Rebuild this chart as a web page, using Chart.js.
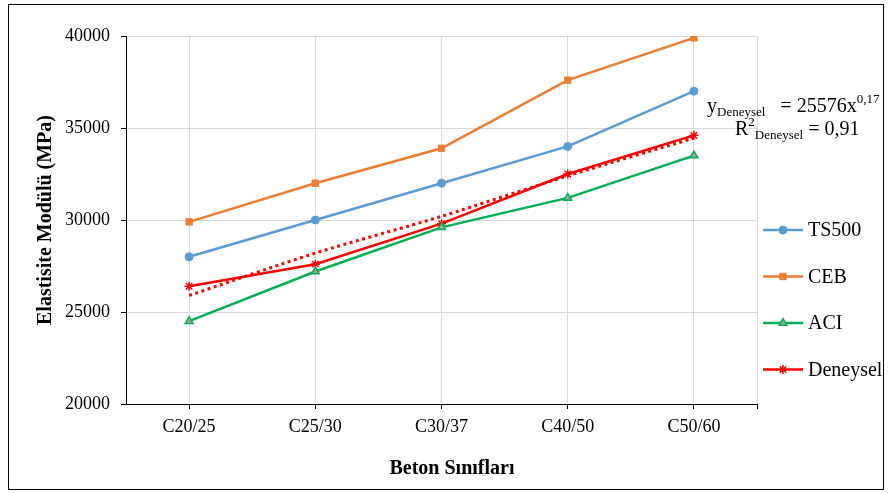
<!DOCTYPE html>
<html>
<head>
<meta charset="utf-8">
<script src="https://cdn.jsdelivr.net/npm/chart.js@4"></script>
<style>
  html, body { margin: 0; padding: 0; background: #fff; }
  #wrap { width: 890px; height: 493px; }
</style>
</head>
<body>
<div id="wrap"><canvas id="chart-line"></canvas></div>
<script>
const labels = ['C20/25', 'C25/30', 'C30/37', 'C40/50', 'C50/60'];

const ts500 = [28000, 30000, 32000, 34000, 37000];
const ceb = [29900, 32000, 33900, 37600, 39900];
const aci = [24500, 27200, 29600, 31200, 33500];
const deneysel = [26400, 27600, 29800, 32500, 34600];
// power trendline of Deneysel
const trend = [25900, 28200, 30200, 32400, 34450];

const yTicks = [20000, 25000, 30000, 35000, 40000];

const serif = "'Liberation Serif', 'Times New Roman', serif";

// legend, equation, x title, right edge and frame
const extras = {
  id: 'extras',
  afterDraw(chart) {
    const ctx = chart.ctx;
    const area = chart.chartArea;
    ctx.save();

    // right edge gridline and tick
    ctx.strokeStyle = '#D9D9D9';
    ctx.lineWidth = 1;
    ctx.beginPath();
    ctx.moveTo(area.right + 0.5, area.top);
    ctx.lineTo(area.right + 0.5, area.bottom);
    ctx.stroke();
    ctx.strokeStyle = '#000';
    ctx.beginPath();
    ctx.moveTo(area.right + 0.5, area.bottom);
    ctx.lineTo(area.right + 0.5, area.bottom + 5);
    ctx.stroke();

    // legend
    const sets = chart.data.datasets.filter(d => !d.hideLegend);
    sets.forEach((d, i) => {
      const y = 230 + i * 46.5;
      ctx.strokeStyle = d.borderColor;
      ctx.lineWidth = 2.5;
      ctx.beginPath();
      ctx.moveTo(763, y);
      ctx.lineTo(803, y);
      ctx.stroke();
      ctx.fillStyle = d.pointBackgroundColor;
      ctx.strokeStyle = d.pointBorderColor;
      ctx.lineWidth = d.pointBorderWidth || 1;
      Chart.helpers.drawPoint(ctx, {
        pointStyle: d.pointStyle,
        radius: d.pointRadius,
        borderWidth: d.pointBorderWidth || 1
      }, 783, y);
      ctx.fillStyle = '#000';
      ctx.font = '20px ' + serif;
      ctx.textBaseline = 'middle';
      ctx.textAlign = 'left';
      ctx.fillText(d.label, 808, y + 1);
    });

    // equation
    ctx.textBaseline = 'alphabetic';
    ctx.fillStyle = '#000';
    function runs(x, parts) {
      parts.forEach(p => {
        ctx.font = p[1] + 'px ' + serif;
        ctx.fillText(p[0], x, p[2]);
        x += ctx.measureText(p[0]).width;
      });
    }
    runs(707, [['y', 20, 112], ['Deneysel', 13, 116], ['   = 25576x', 20, 112], ['0,17', 13, 103]]);
    runs(735, [['R', 20, 135], ['2', 13, 126], ['Deneysel', 13, 139], [' = 0,91', 20, 135]]);

    // x axis title
    ctx.font = 'bold 20px ' + serif;
    ctx.textAlign = 'center';
    ctx.textBaseline = 'middle';
    ctx.fillText('Beton Sınıfları', 452, 469);

    // frame
    ctx.strokeStyle = '#000';
    ctx.lineWidth = 1;
    ctx.strokeRect(8.5, 4.5, 875, 485);
    ctx.restore();
  }
};

const data = {
  labels: labels,
  datasets: [
    {
      label: 'TS500',
      data: ts500,
      borderColor: '#5B9BD5',
      pointBackgroundColor: '#5B9BD5',
      pointBorderColor: '#5B9BD5',
      pointStyle: 'circle',
      pointRadius: 4
    },
    {
      label: 'CEB',
      data: ceb,
      borderColor: '#ED7D31',
      pointBackgroundColor: '#ED7D31',
      pointBorderColor: '#ED7D31',
      pointStyle: 'rect',
      pointRadius: 4.5
    },
    {
      label: 'ACI',
      data: aci,
      borderColor: '#00B050',
      pointBackgroundColor: '#A5A5A5',
      pointBorderColor: '#00B050',
      pointStyle: 'triangle',
      pointRadius: 4.5,
      pointBorderWidth: 1.5
    },
    {
      label: 'Deneysel',
      data: deneysel,
      borderColor: '#FF0000',
      pointBackgroundColor: '#FF0000',
      pointBorderColor: '#FF0000',
      pointStyle: 'star',
      pointRadius: 4.5,
      pointBorderWidth: 1.5
    },
    {
      label: 'Trend',
      data: trend,
      hideLegend: true,
      borderColor: '#FF0000',
      borderDash: [3, 3.5],
      borderWidth: 3,
      pointRadius: 0,
      tension: 0.3
    }
  ]
};

const config = {
  type: 'line',
  data: data,
  options: {
    responsive: true,
    maintainAspectRatio: false,
    animation: false,
    layout: { padding: { left: 8, right: 133, top: 36, bottom: 5 } },
    elements: {
      line: { borderWidth: 2.5 },
      point: { hoverRadius: 5 }
    },
    scales: {
      x: {
        offset: true,
        afterFit(scale) { scale.height = 84; },
        grid: { offset: false, color: '#D9D9D9', tickColor: '#000', tickLength: 5 },
        border: { color: '#000', width: 1 },
        ticks: { color: '#000', padding: 7, font: { family: serif, size: 18 } }
      },
      y: {
        min: 20000,
        max: 40000,
        afterFit(scale) { scale.width = 118; },
        afterBuildTicks(scale) { scale.ticks = yTicks.map(v => ({ value: v })); },
        grid: { color: '#D9D9D9', tickColor: '#000', tickLength: 5 },
        border: { color: '#000', width: 1 },
        ticks: {
          color: '#000',
          padding: 11,
          font: { family: serif, size: 18 },
          callback: v => String(v)
        },
        title: {
          display: true,
          text: 'Elastisite Modülü (MPa)',
          color: '#000',
          padding: { top: 26, bottom: 0 },
          font: { family: serif, size: 20, weight: 'bold' }
        }
      }
    },
    plugins: {
      legend: { display: false },
      tooltip: { enabled: false }
    }
  },
  plugins: [extras]
};

const chartLine = new Chart(
  document.getElementById('chart-line'),
  config
);
</script>
</body>
</html>
